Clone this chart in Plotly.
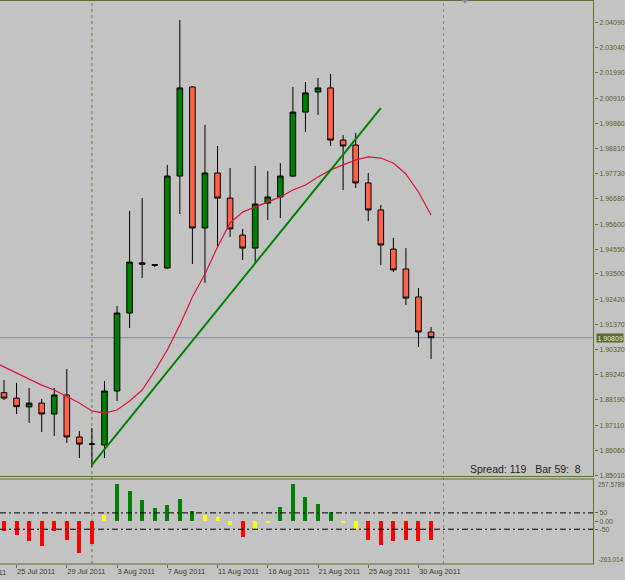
import plotly.graph_objects as go

# ---------------- data ----------------
bar_idx = list(range(35))
opens = [1.8849, 1.8826, 1.8789, 1.8805, 1.8759, 1.8839, 1.8662, 1.8632, 1.8628, 1.8856,
         1.9185, 1.9397, 1.9389, 1.9375, 1.9763, 2.0139, 1.9544, 1.9776, 1.9670, 1.9514,
         1.9459, 1.9649, 1.9675, 1.9763, 2.0033, 2.0118, 2.0135, 1.9915, 1.9894, 1.9734,
         1.9620, 1.9455, 1.9371, 1.9253, 1.9105]
highs = [1.8902, 1.8890, 1.8869, 1.8822, 1.8869, 1.8949, 1.8687, 1.8700, 1.8898, 1.9215,
         1.9616, 1.9670, 1.9390, 1.9810, 2.0422, 2.0143, 1.9979, 1.9890, 1.9797, 1.9540,
         1.9806, 1.9784, 1.9818, 2.0139, 2.0160, 2.0177, 2.0194, 1.9936, 1.9945, 1.9776,
         1.9641, 1.9502, 1.9459, 1.9291, 1.9126]
lows = [1.8818, 1.8759, 1.8721, 1.8683, 1.8666, 1.8637, 1.8573, 1.8535, 1.8573, 1.8814,
        1.9122, 1.9333, 1.9379, 1.9372, 1.9603, 1.9392, 1.9312, 1.9464, 1.9506, 1.9409,
        1.9396, 1.9578, 1.9586, 1.9759, 1.9949, 2.0021, 1.9890, 1.9704, 1.9713, 1.9573,
        1.9388, 1.9358, 1.9219, 1.9042, 1.8991]
closes = [1.8826, 1.8790, 1.8805, 1.8759, 1.8839, 1.8662, 1.8632, 1.8632, 1.8856, 1.9185,
          1.9400, 1.9391, 1.9387, 1.9763, 2.0135, 1.9544, 1.9776, 1.9670, 1.9540, 1.9459,
          1.9645, 1.9675, 1.9763, 2.0033, 2.0114, 2.0135, 1.9915, 1.9890, 1.9734, 1.9620,
          1.9472, 1.9367, 1.9248, 1.9105, 1.90809]

ma_idx = list(range(-1, 35))
ma_vals = [1.8983, 1.8957, 1.8932, 1.8907, 1.8881, 1.8860, 1.8831, 1.8805, 1.8772, 1.8763,
           1.8776, 1.8814, 1.8860, 1.8940, 1.9029, 1.9135, 1.9253, 1.9350, 1.9464, 1.9565,
           1.9611, 1.9633, 1.9654, 1.9675, 1.9704, 1.9725, 1.9759, 1.9789, 1.9810, 1.9831,
           1.9844, 1.9839, 1.9818, 1.9772, 1.9696, 1.9599]

trend_idx = [7, 30]
trend_vals = [1.8544, 2.0050]

hist_vals = [-60, -86, -124, -150, -60, -114, -194, -140, 40, 230,
             186, 126, 80, 100, 136, 64, 40, 22, -26, -100,
             -48, -12, 84, 226, 150, 106, 56, -14, -48, -114,
             -144, -124, -114, -120, -114]
hist_levels = [50, -50]
hist_max, hist_min = 257.5789, -263.014

date_idx = [1, 5, 9, 13, 17, 21, 25, 29, 33]
date_labels = ["25 Jul 2011", "29 Jul 2011", "3 Aug 2011", "7 Aug 2011", "11 Aug 2011",
               "16 Aug 2011", "21 Aug 2011", "25 Aug 2011", "30 Aug 2011"]
first_date_label = "21 Jul 2011"

price_ticks = [2.04090, 2.03040, 2.01990, 2.00910, 1.99860, 1.98810, 1.97730, 1.96680,
               1.95600, 1.94550, 1.93500, 1.92420, 1.91370, 1.90320, 1.89240, 1.88190,
               1.87110, 1.86060, 1.85010]
current_price = 1.90809
vlines_idx = [7, 35]
spread_text = "Spread: 119\u00a0\u00a0\u00a0Bar 59:\u00a0\u00a08"

# ---------------- styling ----------------
W, H = 625, 580
R = 31
PW = W - R
BG = "#c3c3c3"
OLIVE = "#5f7030"
LBL = "#56642c"
DLBL = "#3b4226"
FONT = "Liberation Sans"
FS = 7

def py(px):  # pixel row -> paper y
    return 1 - px / H

def pxx(px):  # pixel column -> paper x
    return px / PW

main_top, main_bot = 1, 476.5
sub_top, sub_bot = 479, 564

fig = go.Figure()

fig.add_trace(go.Candlestick(
    x=bar_idx, open=opens, high=highs, low=lows, close=closes,
    increasing=dict(fillcolor="#008000", line=dict(color="black", width=1)),
    decreasing=dict(fillcolor="#ff6347", line=dict(color="black", width=1)),
    whiskerwidth=0, xaxis="x", yaxis="y", hoverinfo="skip", showlegend=False))

fig.add_trace(go.Scatter(x=ma_idx, y=ma_vals, mode="lines",
                         line=dict(color="#dc143c", width=1.2), xaxis="x", yaxis="y",
                         hoverinfo="skip", showlegend=False))

fig.add_trace(go.Scatter(x=trend_idx, y=trend_vals, mode="lines",
                         line=dict(color="#008000", width=2), xaxis="x", yaxis="y",
                         hoverinfo="skip", showlegend=False))

def hcol(v):
    if v > 50:
        return "#008000"
    if v < -50:
        return "#ff0000"
    return "#ffff00"

fig.add_trace(go.Bar(x=bar_idx, y=hist_vals, width=0.32,
                     marker=dict(color=[hcol(v) for v in hist_vals], line=dict(width=0)),
                     xaxis="x", yaxis="y2", hoverinfo="skip", showlegend=False))

shapes = []
shapes.append(dict(type="line", xref="paper", yref="y", x0=0, x1=1, y0=current_price,
                   y1=current_price, line=dict(color="#7d8ca3", width=1), layer="below"))
for v, c in zip(vlines_idx, ["#6b7a45", "#8a8a78"]):
    shapes.append(dict(type="line", xref="x", yref="paper", x0=v, x1=v,
                       y0=py(sub_bot), y1=py(main_top), line=dict(color=c, width=1, dash="dot"),
                       layer="below"))
for lv in hist_levels:
    shapes.append(dict(type="line", xref="paper", yref="y2", x0=0, x1=1, y0=lv, y1=lv,
                       line=dict(color="black", width=1, dash="6px,3px,2px,3px")))

def hline(ypx, color=OLIVE):
    shapes.append(dict(type="line", xref="paper", yref="paper", x0=0, x1=1,
                       y0=py(ypx), y1=py(ypx), line=dict(color=color, width=1)))

def vline(xpx, y0px, y1px):
    shapes.append(dict(type="line", xref="paper", yref="paper", x0=pxx(xpx), x1=pxx(xpx),
                       y0=py(y0px), y1=py(y1px), line=dict(color=OLIVE, width=1)))

hline(0.5)
hline(main_bot)
hline(sub_top)
hline(sub_bot)
vline(PW - 0.5, main_top, main_bot)
vline(PW - 0.5, sub_top, sub_bot)
shapes.append(dict(type="path", xref="paper", yref="paper",
                   path=f"M {pxx(461.5)} {py(0)} L {pxx(468.5)} {py(0)} L {pxx(465)} {py(3.5)} Z",
                   fillcolor="#7a8ca6", line=dict(width=0)))

annotations = [
    dict(xref="paper", yref="paper", x=pxx(583), y=py(469), xanchor="right", yanchor="middle",
         text=spread_text, showarrow=False, font=dict(family=FONT, size=10.5, color="#1e1e1e")),
    dict(xref="paper", yref="y", x=pxx(596), y=current_price, xanchor="left", yanchor="middle",
         text=f"{current_price:.5f}", showarrow=False, bgcolor="#5b6b2b", borderpad=0.5,
         font=dict(family=FONT, size=FS, color="#e6ead8")),
    dict(xref="paper", yref="paper", x=pxx(596.5), y=py(484), xanchor="left", yanchor="middle",
         text=f"{hist_max:.4f}", showarrow=False, font=dict(family=FONT, size=6.4, color=LBL)),
    dict(xref="paper", yref="paper", x=pxx(596.5), y=py(559), xanchor="left", yanchor="middle",
         text=f"{hist_min:.3f}", showarrow=False, font=dict(family=FONT, size=6.4, color=LBL)),
    dict(xref="paper", yref="paper", x=pxx(-34), y=py(572), xanchor="left", yanchor="middle",
         text=first_date_label, showarrow=False, font=dict(family=FONT, size=7.5, color=DLBL)),
]

x_lo = -4 / 12.56
x_hi = (PW - 4) / 12.56

fig.update_layout(
    width=W, height=H, margin=dict(l=0, r=R, t=0, b=0, autoexpand=False),
    paper_bgcolor=BG, plot_bgcolor=BG,
    showlegend=False, bargap=0, boxgap=0.36,
    shapes=shapes, annotations=annotations,
    xaxis=dict(domain=[0, 1], range=[x_lo, x_hi], anchor="y2", automargin=False,
               tickvals=date_idx, ticktext=date_labels, ticks="outside", ticklen=3,
               tickcolor=OLIVE, ticklabelposition="outside right", tickangle=0,
               tickfont=dict(family=FONT, size=7.5, color=DLBL),
               showgrid=False, zeroline=False, showline=False,
               rangeslider=dict(visible=False), fixedrange=True),
    yaxis=dict(domain=[py(main_bot), py(main_top)], range=[1.84952, 2.05018],
               side="right", anchor="x", automargin=False, tickvals=price_ticks,
               ticktext=[f"{t:.5f}" for t in price_ticks], ticks="outside", ticklen=3,
               tickcolor=OLIVE, tickfont=dict(family=FONT, size=FS, color=LBL),
               showgrid=False, zeroline=False, showline=False),
    yaxis2=dict(domain=[py(sub_bot), py(sub_top)], range=[hist_min, hist_max],
                side="right", anchor="x", automargin=False, tickvals=[50, 0, -50],
                ticktext=["50", "0.00", "-50"], ticks="outside", ticklen=3,
                tickcolor=OLIVE, tickfont=dict(family=FONT, size=FS, color=LBL),
                showgrid=False, zeroline=False, showline=False),
)

fig.write_html("out.html")
